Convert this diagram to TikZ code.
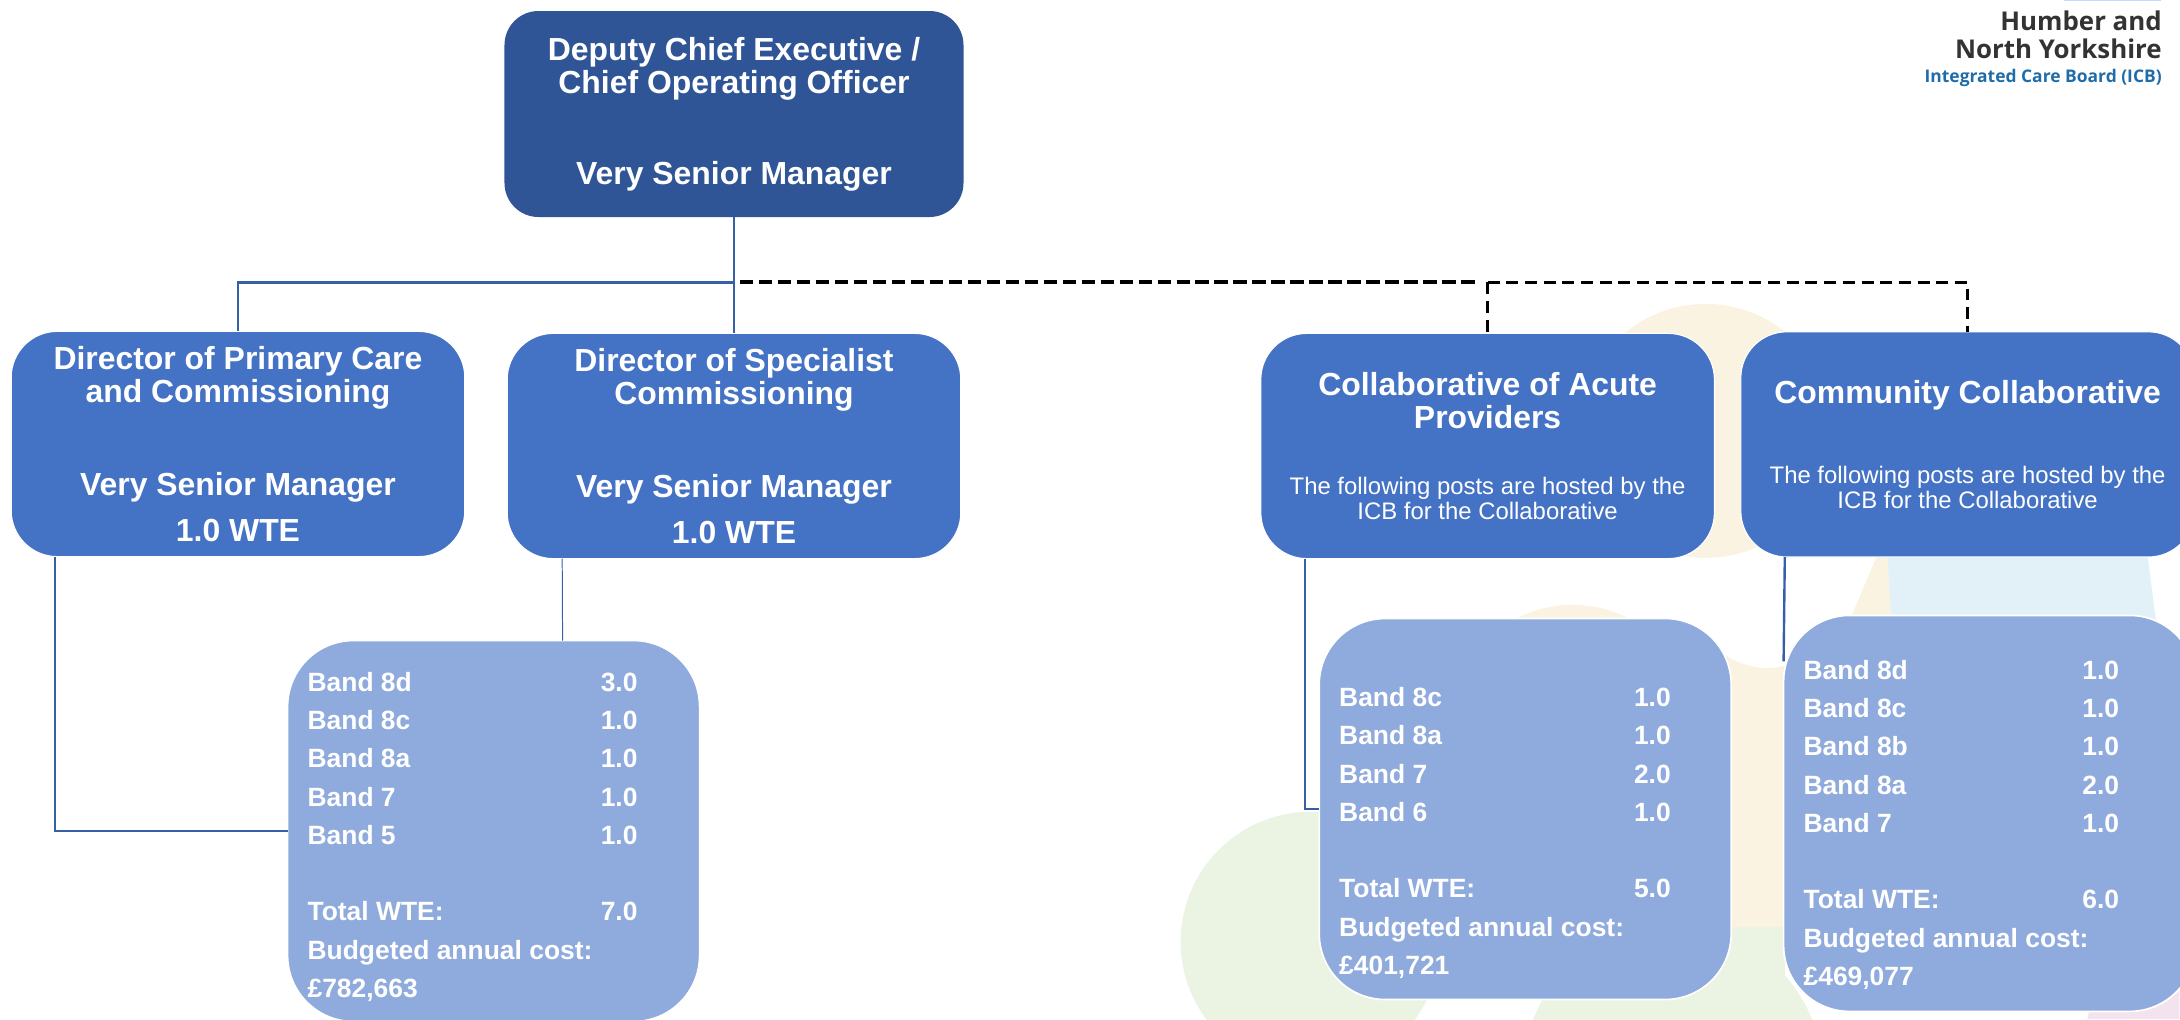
\documentclass[tikz,border=0pt]{standalone}
\usepackage{xcolor}
\usepackage{fontspec}
\setmainfont{Liberation Sans}
\newfontfamily\logofont{Open Sans}
\usepackage{tikz}
\definecolor{chiefblue}{HTML}{2F5597}
\definecolor{boxblue}{HTML}{4472C4}
\definecolor{leafblue}{HTML}{8FAADC}
\definecolor{linkblue}{HTML}{375FA8}
\definecolor{bgcream}{HTML}{FBF3E1}
\definecolor{bggreen}{HTML}{EBF3E3}
\definecolor{bgsky}{HTML}{E2F1F8}
\definecolor{bgpink}{HTML}{F3E3EE}
\definecolor{logogrey}{HTML}{333333}
\definecolor{logoblue}{HTML}{1F6CA8}
\definecolor{logotop}{HTML}{BFDDFB}

\begin{document}
\begin{tikzpicture}[node distance=8.3cm,
  chiefbox/.style={rectangle, rounded corners=0.85cm, minimum width=11.475cm, minimum height=5.15cm, text width=11.2cm, inner sep=0.1cm, outer sep=0pt, align=flush center, fill=chiefblue, text=white, font=\bfseries\fontsize{22.7}{23.6}\selectfont},
  dirbox/.style={rectangle, rounded corners=1.15cm, minimum width=11.34cm, minimum height=5.63cm, text width=11.1cm, inner sep=0.1cm, outer sep=0pt, align=flush center, fill=boxblue, draw=white, line width=0.8pt, text=white, font=\bfseries\fontsize{22.7}{23.6}\selectfont},
  leafbox/.style={rectangle, rounded corners=1.65cm, minimum width=10.3cm, minimum height=9.525cm, text width=9.3cm, inner sep=0.1cm, outer sep=0pt, align=flush left, fill=leafblue, draw=white, line width=1.2pt, text=white, font=\bfseries\fontsize{18.8}{27.2}\selectfont},
  mainlink/.style={draw=linkblue, line width=1.7pt},
  thinlink/.style={draw=linkblue, line width=0.7pt},
  boldlink/.style={draw=black, line width=2.8pt, dash pattern=on 9.5pt off 4pt},
  dashlink/.style={draw=black, line width=1.6pt, dash pattern=on 8.5pt off 4.8pt}]

\useasboundingbox (-18.35,2.85) rectangle (36.15,-22.625);

\begin{scope}[shift={(-18.35,2.85)}, x=0.025cm, y=-0.025cm]
\fill[bgcream] (1706,431) circle (127);
\fill[bgcream] (1573,728) circle (123);
\fill[bgcream] (1725,655) .. controls (1745,668) and (1770,672) .. (1790,664) -- (1790,930) -- (1725,930) -- cycle;
\fill[bgcream] (1878,555) -- (1890,555) -- (1892,625) -- (1848,625) -- cycle;
\fill[bgsky] (1888,555) -- (2148,555) -- (2157,625) -- (1892,625) -- cycle;
\fill[bggreen] (1311,942) circle (130);
\fill[bggreen] (1673,1075) circle (150);
\fill[bggreen] (1725,927) rectangle (1785,1019);
\fill[bgpink] (2095,985) -- (2180,985) -- (2180,1019) -- (2088,1019) -- cycle;
\fill[logotop] (2065,0) rectangle (2162,1);
\end{scope}

\node (chief) [chiefbox] {Deputy Chief Executive /\\Chief Operating Officer\\[41pt]Very Senior Manager};
\node (specialist) [dirbox, below of=chief] {Director of Specialist\\Commissioning\\[42pt]Very Senior Manager\\[9.2pt]1.0 WTE};
\node (primary) [dirbox, left of=specialist, xshift=-4.1cm, yshift=0.05cm] {Director of Primary Care\\and Commissioning\\[42pt]Very Senior Manager\\[9.2pt]1.0 WTE};
\node (acute) [dirbox, right of=specialist, xshift=10.54cm] {Collaborative of Acute\\Providers\\[29.5pt]{\normalfont\fontsize{17}{17.8}\selectfont The following posts are hosted by the\\[-5.8pt]ICB for the Collaborative}};
\node (community) [dirbox, right of=acute, xshift=3.7cm, yshift=0.04cm] {Community Collaborative\\[39pt]{\normalfont\fontsize{17}{17.8}\selectfont The following posts are hosted by the\\[-5.8pt]ICB for the Collaborative}};

\node (leafa) [leafbox, below of=specialist, xshift=-6.01cm, yshift=-1.325cm] {\begin{tabular}{@{}p{7.33cm}@{}l@{}}
\rule{0pt}{27.3pt}Band 8d & 3.0\\
Band 8c & 1.0\\
Band 8a & 1.0\\
Band 7 & 1.0\\
Band 5 & 1.0\\
\\
Total WTE: & 7.0\\
\multicolumn{2}{@{}l}{Budgeted annual cost:}\\
\multicolumn{2}{@{}l}{£782,663}
\end{tabular}};
\node (leafb) [leafbox, below of=acute, xshift=0.94cm, yshift=-0.775cm] {\begin{tabular}{@{}p{7.37cm}@{}l@{}}
\rule{0pt}{52.9pt}Band 8c & 1.0\\
Band 8a & 1.0\\
Band 7 & 2.0\\
Band 6 & 1.0\\
\\
Total WTE: & 5.0\\
\multicolumn{2}{@{}l}{Budgeted annual cost:}\\
\multicolumn{2}{@{}l}{£401,721}
\end{tabular}};
\node (leafc) [leafbox, below of=community, xshift=0.55cm, yshift=-0.925cm, minimum height=9.9cm] {\begin{tabular}{@{}p{6.97cm}@{}l@{}}
\rule{0pt}{35pt}Band 8d & 1.0\\
Band 8c & 1.0\\
Band 8b & 1.0\\
Band 8a & 2.0\\
Band 7 & 1.0\\
\\
Total WTE: & 6.0\\
\multicolumn{2}{@{}l}{Budgeted annual cost:}\\
\multicolumn{2}{@{}l}{£469,077}
\end{tabular}};

\node (logo) [anchor=north east, align=flush right, inner sep=0pt, text=logogrey, font=\logofont\bfseries\fontsize{18.4}{20}\selectfont] at (35.7,2.58) {Humber and\\North Yorkshire\\[-3.5pt]{\color{logoblue}\fontsize{12.4}{14}\selectfont Integrated Care Board (ICB)}};

\coordinate (branch) at ([yshift=1.275cm]specialist.north);

\draw[mainlink] (chief.south) -- (specialist.north);
\draw[mainlink] (branch) -| (primary.north);
\draw[boldlink, shorten >=0.2cm] ([xshift=0.15cm]branch) -- (acute.north |- branch);
\draw[dashlink] (acute.north |- branch) -- (acute.north);
\draw[dashlink] (acute.north |- branch) -| (community.north);
\draw[mainlink] ([xshift=1.1cm]primary.south west) |- (leafa.west);
\draw[thinlink] ([xshift=1.375cm]specialist.south west) -- ([xshift=6.875cm]leafa.north west);
\draw[mainlink] ([xshift=1.1cm]acute.south west) |- (leafb.west);
\draw[mainlink] ([xshift=1.1cm]community.south west) -- ([yshift=-1.15cm]leafc.north west);
\end{tikzpicture}
\end{document}
